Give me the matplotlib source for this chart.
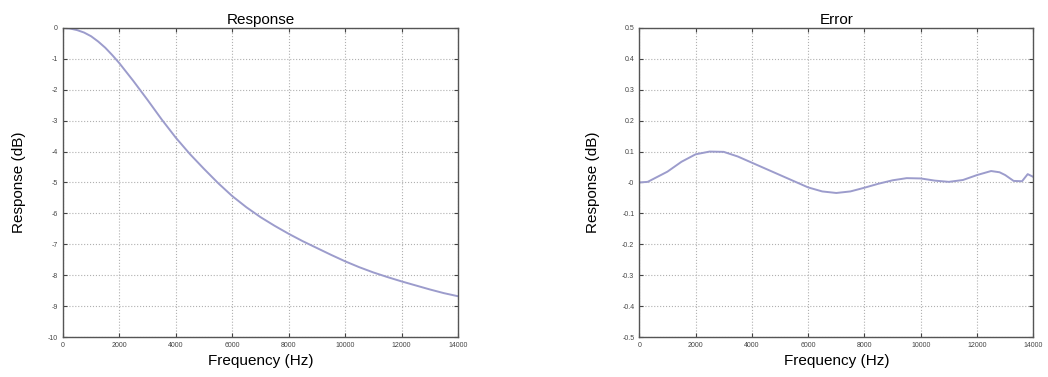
import matplotlib.pyplot as plt
import numpy as np

plt.rcParams["font.family"] = ["Liberation Sans", "DejaVu Sans"]
plt.rcParams["axes.unicode_minus"] = False

# values
resp_freq = [0, 250, 500, 750, 1000, 1250, 1500, 1750, 2000, 2500, 3000, 3500, 4000,
             4500, 5000, 5500, 6000, 6500, 7000, 7500, 8000, 8500, 9000, 9500, 10000,
             10500, 11000, 11500, 12000, 12500, 13000, 13500, 14000]
resp_db = [0.0, -0.02, -0.07, -0.15, -0.27, -0.44, -0.64, -0.88, -1.14, -1.72, -2.33,
           -2.96, -3.55, -4.08, -4.56, -5.02, -5.44, -5.80, -6.12, -6.40, -6.66, -6.90,
           -7.12, -7.34, -7.55, -7.74, -7.91, -8.06, -8.20, -8.33, -8.46, -8.58, -8.68]

err_freq = [0, 300, 1000, 1500, 2000, 2500, 3000, 3500, 4000, 4500, 5000, 5500,
            6000, 6500, 7000, 7500, 8000, 8500, 9000, 9500, 10000, 10500, 11000,
            11500, 12000, 12500, 12800, 13000, 13300, 13600, 13800, 14000]
err_db = [0.0, 0.002, 0.035, 0.067, 0.091, 0.100, 0.099, 0.084, 0.064, 0.044, 0.024,
          0.004, -0.016, -0.029, -0.034, -0.029, -0.017, -0.004, 0.007, 0.014, 0.013,
          0.006, 0.002, 0.008, 0.024, 0.037, 0.033, 0.024, 0.005, 0.004, 0.027, 0.018]

line_color = "#9c9ccc"

fig = plt.figure(figsize=(10.48, 3.77), dpi=100)
ax1 = fig.add_axes([0.060, 0.106, 0.377, 0.820])
ax2 = fig.add_axes([0.610, 0.106, 0.376, 0.820])


def style(ax):
    ax.set_xlim(0, 14000)
    ax.set_xticks(np.arange(0, 14001, 2000))
    ax.grid(True, linestyle=":", color="#b0b0b0", linewidth=0.8)
    ax.tick_params(direction="in", top=True, right=True, labelsize=5,
                   length=3, colors="#444444")
    for s in ax.spines.values():
        s.set_color("#555555")
        s.set_linewidth(1.0)
    ax.set_xlabel("Frequency (Hz)", fontsize=11, labelpad=4)
    ax.set_ylabel("Response (dB)", fontsize=11, labelpad=16)


ax1.plot(resp_freq, resp_db, color=line_color, linewidth=1.4)
ax1.set_ylim(-10, 0)
ax1.set_yticks(np.arange(-10, 1, 1))
ax1.set_title("Response", fontsize=11, pad=3)
style(ax1)

ax2.plot(err_freq, err_db, color=line_color, linewidth=1.4)
ax2.set_ylim(-0.5, 0.5)
ticks = np.round(np.arange(-0.5, 0.51, 0.1), 1)
ax2.set_yticks(ticks)
ax2.set_yticklabels([f"{v:g}" for v in ticks])
ax2.set_title("Error", fontsize=11, pad=3)
style(ax2)

plt.savefig("out.png", dpi=100)
